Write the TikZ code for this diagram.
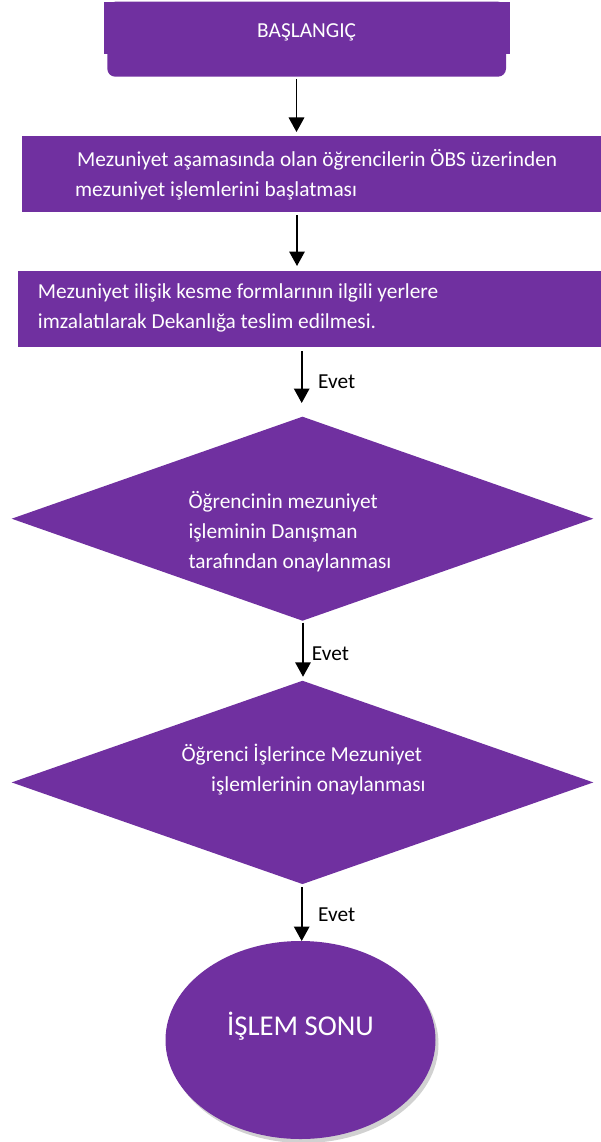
\documentclass[tikz,border=0pt]{standalone}
\usepackage{fontspec}
\setmainfont{Carlito}
\usetikzlibrary{arrows.meta,shapes.geometric,shadows}
\definecolor{vpurple}{RGB}{112,48,160}
\begin{document}
\begin{tikzpicture}[x=1pt,y=-1pt,
  shapefill/.style={fill=vpurple, draw=none, inner sep=0pt, outer sep=0pt},
  txt/.style={text=white, font=\fontsize{21.33}{30}\selectfont, inner sep=0pt, anchor=base west},
  lbl/.style={text=black, font=\fontsize{21.33}{30}\selectfont, inner sep=0pt, anchor=base west},
  arr/.style={line width=1.7pt, -{Triangle[width=15.5pt,length=14.5pt]}}]
\useasboundingbox (0,0) rectangle (601,1142);

% start shape
\fill[vpurple] (104,1.7) rectangle (510,54.3);
\node[shapefill, rectangle, rounded corners=8pt, minimum width=398.7pt, minimum height=75pt,
      text=white, font=\fontsize{21.33}{30}\selectfont, text height=15pt, text depth=18pt]
      (start) at (306.65,39.2) {BAŞLANGIÇ};

% boxes
\node[shapefill, rectangle, minimum width=579.3pt, minimum height=75.7pt] (box2) at (311.35,173.85) {};
\node[txt] (t2) at (75,166.5) {\vtop{\hbox{\hskip2pt Mezuniyet aşamasında olan öğrencilerin ÖBS üzerinden}\hbox{mezuniyet işlemlerini başlatması}}};

\node[shapefill, rectangle, minimum width=582.7pt, minimum height=76pt] (box3) at (309.65,308.7) {};
\node[txt] (t3) at (37.7,298.5) {\vtop{\hbox{Mezuniyet ilişik kesme formlarının ilgili yerlere}\hbox{imzalatılarak Dekanlığa teslim edilmesi.}}};

% diamonds
\node[shapefill, diamond, minimum width=581.6pt, minimum height=204pt] (d1) at (302.5,518.7) {};
\node[txt] (td1) at (188.3,508) {\vtop{\hbox{Öğrencinin mezuniyet}\hbox{işleminin Danışman}\hbox{tarafından onaylanması}}};

\node[shapefill, diamond, minimum width=581.6pt, minimum height=203.3pt] (d2) at (302.5,782.4) {};
\node[txt] (td2) at (181.4,761.7) {\vtop{\hbox{Öğrenci İşlerince Mezuniyet}\hbox{\hskip29.6pt işlemlerinin onaylanması}}};

% end
\node[shapefill, ellipse, minimum width=270pt, minimum height=198pt,
      drop shadow={shadow xshift=3pt, shadow yshift=-4pt, opacity=0.3, fill=black!60},
      text=white, font=\fontsize{28.7}{34}\selectfont, text height=20pt, text depth=30pt]
      (end) at (300.5,1040) {İŞLEM SONU};

% connectors
\draw[arr, shorten <=2.3pt, shorten >=4pt] ([xshift=-10.15pt]start.south) -- ([xshift=-14.85pt]box2.north);
\draw[arr, shorten <=3.3pt, shorten >=4.7pt] ([xshift=-14.35pt]box2.south) -- ([xshift=-12.65pt]box3.north);
\draw[arr, shorten <=4.3pt, shorten >=13.7pt] ([xshift=-7.95pt]box3.south) -- ([xshift=-0.8pt]d1.north);
\draw[arr, shorten <=2pt, shorten >=4pt] ([xshift=0.5pt]d1.south) -- ([xshift=0.5pt]d2.north);
\draw[arr, shorten <=3pt] ([xshift=-0.8pt]d2.south) -- ([xshift=1.2pt]end.north);

% labels
\node[lbl] (e1) at (318,388) {Evet};
\node[lbl] (e2) at (311.7,660) {Evet};
\node[lbl] (e3) at (318,921.7) {Evet};
\end{tikzpicture}
\end{document}
